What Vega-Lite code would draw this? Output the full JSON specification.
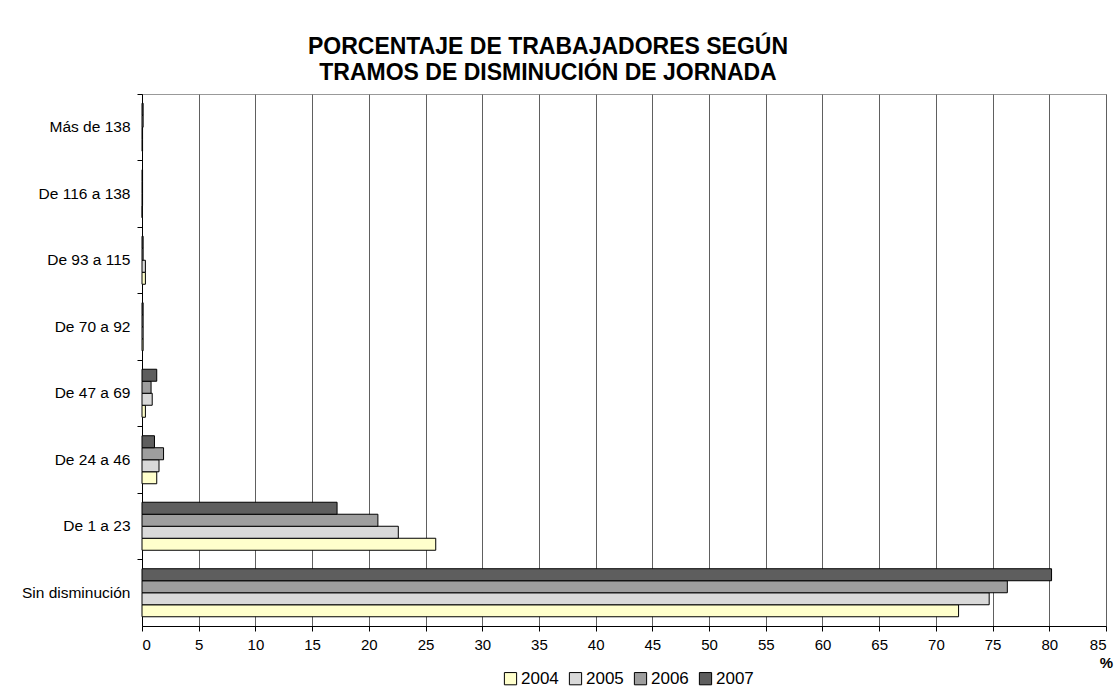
{
  "$schema": "https://vega.github.io/schema/vega-lite/v6.json",
  "autosize": {"type": "none"},
  "width": 964,
  "height": 532,
  "padding": {"left": 142, "top": 94, "right": 9, "bottom": 74},
  "background": "white",
  "config": {
    "font": "Liberation Sans",
    "view": {"stroke": "#999999", "strokeWidth": 1}
  },
  "title": {
    "text": ["PORCENTAJE DE TRABAJADORES SEGÚN", "TRAMOS DE DISMINUCIÓN DE JORNADA"],
    "fontSize": 23,
    "fontWeight": "bold",
    "lineHeight": 26,
    "color": "black",
    "anchor": "middle",
    "frame": "group",
    "dx": -76,
    "offset": 9
  },
  "data": {
    "values": [
      {"tramo": "Más de 138", "year": "2004", "pct": 0.05},
      {"tramo": "Más de 138", "year": "2005", "pct": 0.05},
      {"tramo": "Más de 138", "year": "2006", "pct": 0.1},
      {"tramo": "Más de 138", "year": "2007", "pct": 0.1},
      {"tramo": "De 116 a 138", "year": "2004", "pct": 0.02},
      {"tramo": "De 116 a 138", "year": "2005", "pct": 0.05},
      {"tramo": "De 116 a 138", "year": "2006", "pct": 0.05},
      {"tramo": "De 116 a 138", "year": "2007", "pct": 0.05},
      {"tramo": "De 93 a 115", "year": "2004", "pct": 0.3},
      {"tramo": "De 93 a 115", "year": "2005", "pct": 0.3},
      {"tramo": "De 93 a 115", "year": "2006", "pct": 0.1},
      {"tramo": "De 93 a 115", "year": "2007", "pct": 0.1},
      {"tramo": "De 70 a 92", "year": "2004", "pct": 0.1},
      {"tramo": "De 70 a 92", "year": "2005", "pct": 0.1},
      {"tramo": "De 70 a 92", "year": "2006", "pct": 0.1},
      {"tramo": "De 70 a 92", "year": "2007", "pct": 0.1},
      {"tramo": "De 47 a 69", "year": "2004", "pct": 0.3},
      {"tramo": "De 47 a 69", "year": "2005", "pct": 0.9},
      {"tramo": "De 47 a 69", "year": "2006", "pct": 0.8},
      {"tramo": "De 47 a 69", "year": "2007", "pct": 1.3},
      {"tramo": "De 24 a 46", "year": "2004", "pct": 1.3},
      {"tramo": "De 24 a 46", "year": "2005", "pct": 1.5},
      {"tramo": "De 24 a 46", "year": "2006", "pct": 1.9},
      {"tramo": "De 24 a 46", "year": "2007", "pct": 1.1},
      {"tramo": "De 1 a 23", "year": "2004", "pct": 25.9},
      {"tramo": "De 1 a 23", "year": "2005", "pct": 22.6},
      {"tramo": "De 1 a 23", "year": "2006", "pct": 20.8},
      {"tramo": "De 1 a 23", "year": "2007", "pct": 17.2},
      {"tramo": "Sin disminución", "year": "2004", "pct": 72.0},
      {"tramo": "Sin disminución", "year": "2005", "pct": 74.7},
      {"tramo": "Sin disminución", "year": "2006", "pct": 76.3},
      {"tramo": "Sin disminución", "year": "2007", "pct": 80.2}
    ]
  },
  "mark": {"type": "bar", "stroke": "black", "strokeWidth": 1},
  "encoding": {
    "y": {
      "field": "tramo",
      "type": "nominal",
      "sort": ["Más de 138", "De 116 a 138", "De 93 a 115", "De 70 a 92", "De 47 a 69", "De 24 a 46", "De 1 a 23", "Sin disminución"],
      "scale": {"paddingInner": 0, "paddingOuter": 0},
      "axis": {
        "title": null,
        "labelFontSize": 15.5,
        "labelColor": "black",
        "labelPadding": 7,
        "tickColor": "black",
        "tickSize": 5,
        "domainColor": "black",
        "bandPosition": 0,
        "grid": false
      }
    },
    "yOffset": {
      "field": "year",
      "type": "nominal",
      "sort": "descending",
      "scale": {"paddingInner": 0, "paddingOuter": 0.77}
    },
    "x": {
      "field": "pct",
      "type": "quantitative",
      "scale": {"domain": [0, 85], "nice": false},
      "axis": {
        "values": [0, 5, 10, 15, 20, 25, 30, 35, 40, 45, 50, 55, 60, 65, 70, 75, 80, 85],
        "grid": true,
        "gridColor": "#606060",
        "gridOpacity": 1,
        "tickColor": "black",
        "tickSize": 5,
        "domainColor": "black",
        "labelFontSize": 15,
        "labelColor": "black",
        "labelPadding": 6,
        "title": "%",
        "titleFontSize": 15,
        "titleFontWeight": "bold",
        "titleColor": "black",
        "titleAnchor": "end",
        "titleAlign": "center",
        "titlePadding": 3
      }
    },
    "fill": {
      "field": "year",
      "type": "nominal",
      "scale": {"domain": ["2004", "2005", "2006", "2007"], "range": ["#FFFFCC", "#D9D9D9", "#9E9E9E", "#5E5E5E"]},
      "legend": {
        "title": null,
        "orient": "none",
        "legendX": 360,
        "legendY": 576,
        "direction": "horizontal",
        "symbolType": "square",
        "symbolSize": 150,
        "symbolStrokeColor": "black",
        "symbolStrokeWidth": 1,
        "labelFontSize": 17,
        "labelColor": "black",
        "labelOffset": 2,
        "columnPadding": 8
      }
    }
  }
}
